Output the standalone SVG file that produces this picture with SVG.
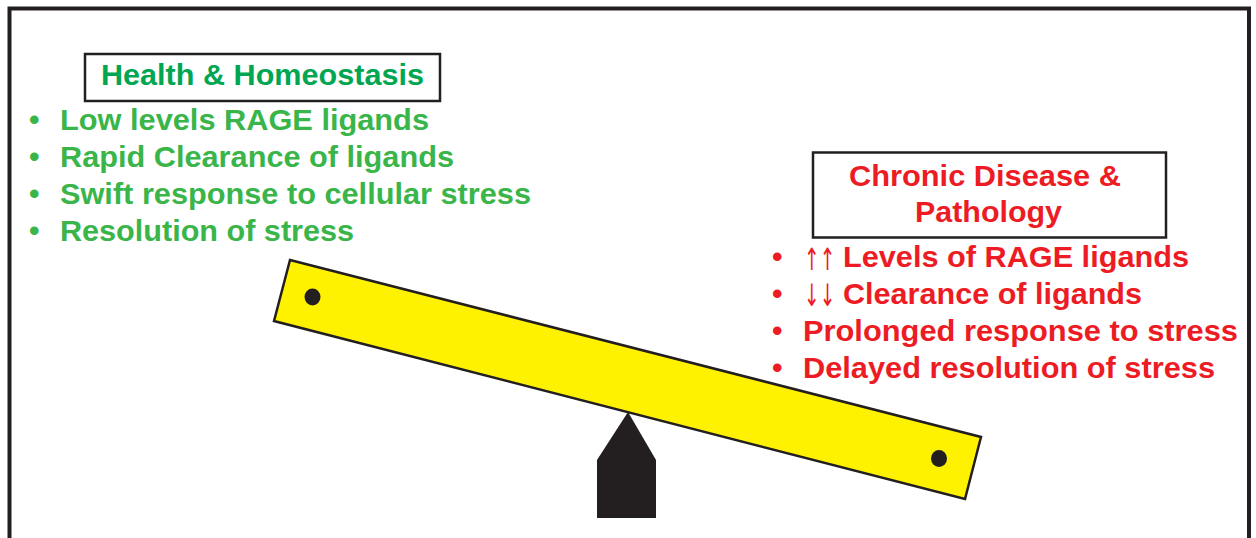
<svg xmlns="http://www.w3.org/2000/svg" width="1256" height="538" viewBox="0 0 1256 538">
  <style>
    .t { font-family: "Liberation Sans", Arial, sans-serif; font-weight: bold; font-size: 30px; }
    .h { font-size: 29px; }
    .b { font-family: "Liberation Sans", Arial, sans-serif; font-weight: bold; font-size: 30px; }
    .g { fill: #39b54a; }
    .gt { fill: #00a651; }
    .r { fill: #ed1c24; }
    .box { fill: #ffffff; stroke: #231f20; stroke-width: 2.5; }
    .arr { font-family: "DejaVu Sans", sans-serif; font-weight: normal; font-size: 22px; }
  </style>
  <rect width="1256" height="538" fill="#ffffff"/>
  <g id="frame">
    <path d="M9.5 540 V8.5 H1249 V540" fill="none" stroke="#231f20" stroke-width="4"/>
  </g>
  <g id="health">
    <rect class="box" x="85" y="54" width="355" height="47"/>
    <text class="t h gt" x="101" y="85" textLength="323" lengthAdjust="spacingAndGlyphs">Health &amp; Homeostasis</text>
    <text class="b g" x="29" y="130">•</text>
    <text class="t g" x="60" y="130" textLength="369" lengthAdjust="spacingAndGlyphs">Low levels RAGE ligands</text>
    <text class="b g" x="29" y="167">•</text>
    <text class="t g" x="60" y="167" textLength="394" lengthAdjust="spacingAndGlyphs">Rapid Clearance of ligands</text>
    <text class="b g" x="29" y="204">•</text>
    <text class="t g" x="60" y="204" textLength="471" lengthAdjust="spacingAndGlyphs">Swift response to cellular stress</text>
    <text class="b g" x="29" y="241">•</text>
    <text class="t g" x="60" y="241" textLength="294" lengthAdjust="spacingAndGlyphs">Resolution of stress</text>
  </g>
  <g id="disease">
    <rect class="box" x="813" y="152.5" width="353" height="85"/>
    <text class="t h r" x="849" y="186" textLength="272" lengthAdjust="spacingAndGlyphs">Chronic Disease &amp;</text>
    <text class="t h r" x="915" y="222" textLength="147" lengthAdjust="spacingAndGlyphs">Pathology</text>
    <text class="b r" x="772" y="267">•</text>
    <text class="arr r" transform="translate(804,270) scale(0.85,1.4)">↑↑</text>
    <text class="t r" x="843" y="267" textLength="346" lengthAdjust="spacingAndGlyphs">Levels of RAGE ligands</text>
    <text class="b r" x="772" y="304">•</text>
    <text class="arr r" transform="translate(804,306) scale(0.85,1.4)">↓↓</text>
    <text class="t r" x="843" y="304" textLength="299" lengthAdjust="spacingAndGlyphs">Clearance of ligands</text>
    <text class="b r" x="772" y="341">•</text>
    <text class="t r" x="803" y="341" textLength="435" lengthAdjust="spacingAndGlyphs">Prolonged response to stress</text>
    <text class="b r" x="772" y="378">•</text>
    <text class="t r" x="803" y="378" textLength="412" lengthAdjust="spacingAndGlyphs">Delayed resolution of stress</text>
  </g>
  <g id="seesaw">
    <polygon id="fulcrum" points="628,412 656,460 656,518 597,518 597,460" fill="#231f20"/>
    <polygon id="beam" points="290,260 981,437 965,499 274,321" fill="#fff200" stroke="#231f20" stroke-width="2.5" stroke-linejoin="miter"/>
    <ellipse cx="312.5" cy="297" rx="8" ry="8.5" fill="#231f20"/>
    <ellipse cx="939" cy="458.5" rx="8" ry="8.5" fill="#231f20"/>
  </g>
</svg>
